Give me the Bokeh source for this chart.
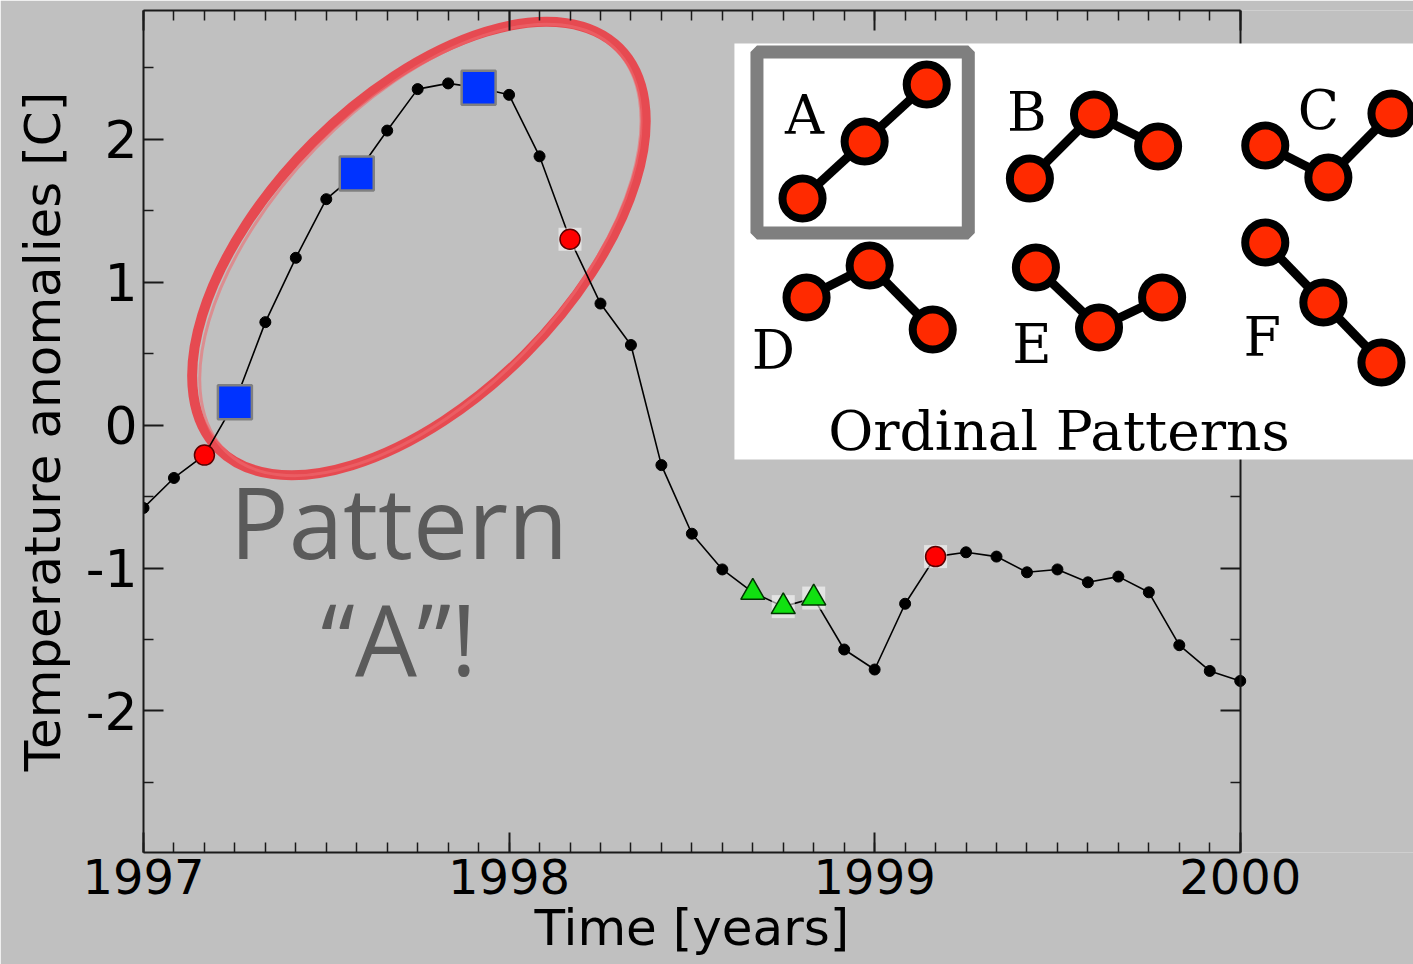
import math
from bokeh.plotting import figure
from bokeh.models import (Range1d, FixedTicker, LinearAxis, BoxAnnotation, Arrow, Label,
                          ColumnDataSource, Title)
from bokeh.core.properties import value
from bokeh.embed import file_html
from bokeh.resources import INLINE

# ---------------- data ----------------
month_index = list(range(37))          # months since Jan 1997
anomaly = [-0.58, -0.37, -0.21, 0.16, 0.72, 1.17, 1.58, 1.76, 2.06, 2.35,
           2.39, 2.36, 2.31, 1.88, 1.30, 0.85, 0.56, -0.28, -0.76, -1.01,
           -1.17, -1.27, -1.21, -1.57, -1.71, -1.25, -0.92, -0.89, -0.92, -1.03,
           -1.01, -1.10, -1.06, -1.17, -1.54, -1.72, -1.79]
pattern_a_idx = [3, 7, 11]      # blue squares
red_idx = [2, 14, 26]           # red circles
green_idx = [20, 21, 22]        # green triangles
halo_idx = [14, 21, 22, 26]     # light boxes behind some markers

x_major = [1997, 1998, 1999, 2000]
x_labels = ["1997", "1998", "1999", "2000"]
y_major = [-2, -1, 0, 1, 2]
y_labels = ["-2", "-1", "0", "1", "2"]

pattern_names = ["A", "B", "C", "D", "E", "F"]
pattern_ranks = [[0, 1, 2], [0, 2, 1], [1, 0, 2], [1, 2, 0], [2, 0, 1], [2, 1, 0]]

BG = "#c0c0c0"
time = [1997 + m / 12.0 for m in month_index]
src = ColumnDataSource(dict(t=time, a=anomaly))

def sub(idx):
    return ColumnDataSource(dict(t=[time[i] for i in idx], a=[anomaly[i] for i in idx]))

# ---------------- geometry ----------------
W, H = 1413, 964
PX_L, PX_T, PX_B = 143, 10, 852      # frame left / top / bottom (page px)
PX_PER_YEAR = 365.0
FRAME_W = W - PX_L - 2               # frame runs to the right edge (inset overhangs axis)
X0 = 1997
X1 = X0 + FRAME_W / PX_PER_YEAR
XB = 2000                            # right end of the drawn axes
Y0, Y1 = -2.99, 2.9

def dx(xp):
    return X0 + (xp - PX_L) / PX_PER_YEAR
def dy(yp):
    return Y1 - (yp - PX_T) * (Y1 - Y0) / (PX_B - PX_T)

p = figure(width=W, height=H, x_range=Range1d(X0, X1), y_range=Range1d(Y0, Y1),
           output_backend="svg", toolbar_location=None,
           min_border_left=PX_L, min_border_right=0, min_border_top=PX_T,
           min_border_bottom=H - PX_B,
           background_fill_color=BG, border_fill_color=BG, outline_line_color=None)
p.grid.visible = False

xticker = FixedTicker(ticks=x_major, minor_ticks=[1997 + m / 12.0 for m in range(37)])
yticker = FixedTicker(ticks=y_major, minor_ticks=[-2.5, -1.5, -0.5, 0.5, 1.5, 2.5])

def style_axis(ax, labels=True):
    ax.axis_line_color = "#1a1a1a"
    ax.axis_line_width = 2
    ax.major_tick_line_color = "#1a1a1a"
    ax.major_tick_line_width = 2
    ax.minor_tick_line_color = "#1a1a1a"
    ax.minor_tick_line_width = 1.5
    ax.major_tick_in = 20
    ax.major_tick_out = 0
    ax.minor_tick_in = 10
    ax.minor_tick_out = 0
    if labels:
        ax.major_label_text_font = "DejaVu Sans"
        ax.major_label_text_color = "black"
        ax.major_label_standoff = 6
        ax.axis_label_text_font = "DejaVu Sans"
        ax.axis_label_text_font_style = "normal"
        ax.axis_label_text_color = "black"
    else:
        ax.major_label_text_font_size = "1px"
        ax.major_label_text_color = None
        ax.major_label_standoff = 0

xa = p.xaxis[0]
xa.ticker = xticker
xa.bounds = (X0, XB)
xa.major_label_overrides = {v: s for v, s in zip(x_major, x_labels)}
style_axis(xa)
xa.major_label_text_font_size = "48px"

# x-axis title, aligned under the 1997-2000 span
p.add_layout(Title(text="Time [years]", align="left", offset=391, standoff=0,
                   text_font="DejaVu Sans", text_font_size="50px",
                   text_font_style="normal", text_color="black"), "below")

ya = p.yaxis[0]
ya.ticker = yticker
ya.major_label_overrides = {v: s for v, s in zip(y_major, y_labels)}
style_axis(ya)
ya.major_label_text_font_size = "52px"
ya.axis_label = "Temperature anomalies [C]"
ya.axis_label_text_font_size = "50px"
ya.axis_label_standoff = 11

top = LinearAxis(ticker=xticker, bounds=(X0, XB))
style_axis(top, labels=False)
p.add_layout(top, "above")
right = LinearAxis(ticker=yticker, fixed_location=XB)
style_axis(right, labels=False)
p.add_layout(right, "right")

# ------------- red hand-drawn ellipse -------------
ell_cx, ell_cy = dx(418), dy(248)
p.ellipse(x=[ell_cx], y=[ell_cy], width=567, height=300, angle=math.pi / 4,
          width_units="screen", height_units="screen",
          fill_color=None, line_color="#e8434b", line_width=10, line_alpha=0.95)
p.ellipse(x=[ell_cx + 0.004], y=[ell_cy - 0.01], width=560, height=292, angle=math.pi / 4 + 0.02,
          width_units="screen", height_units="screen",
          fill_color=None, line_color="#ef6a70", line_width=3, line_alpha=0.6)

# ------------- series -------------
p.line("t", "a", source=src, line_color="black", line_width=1.6)
p.scatter("t", "a", source=src, size=11, marker="circle", fill_color="black", line_color="black")
p.scatter("t", "a", source=sub(halo_idx), size=23, marker="square",
          fill_color="white", fill_alpha=0.55, line_color=None)
p.scatter("t", "a", source=sub(red_idx), size=20, marker="circle",
          fill_color="#ff0000", line_color="#5a0000", line_width=1.5)
p.scatter("t", "a", source=sub(green_idx), size=24, marker="triangle",
          fill_color="#11e011", line_color="#003300", line_width=1.5)
p.scatter("t", "a", source=sub(pattern_a_idx), size=34, marker="square",
          fill_color="#0033ff", line_color="#808080", line_width=2.5)

# ------------- "Pattern "A"!" text -------------
SHIFT_BIG = 38     # baseline correction for the big label (px)
p.text(x=[dx(398), dx(398)], y=[dy(558 - SHIFT_BIG), dy(675 - SHIFT_BIG)],
       text=["Pattern", "\u201cA\u201d!"],
       text_font=value("Open Sans"), text_font_size="98px", text_color="#5a5a5a",
       text_align="center", text_baseline="alphabetic")

# ------------- inset: ordinal patterns -------------
p.add_layout(BoxAnnotation(left=dx(733), right=dx(1460), top=dy(43), bottom=dy(459),
                           fill_color="white", fill_alpha=1.0, line_color=None))
p.add_layout(BoxAnnotation(left=dx(755.5), right=dx(966.5), top=dy(51.5), bottom=dy(232.5),
                           fill_color=None, fill_alpha=0, line_color="#7f7f7f",
                           line_width=13, line_alpha=1.0))

# per pattern: x of first dot, y of rank-0 dot, x step, y step per rank (reference px)
icon_layout = [(801, 198, 62, 57), (1028, 178, 64, 32), (1263, 177, 63, 32),
               (805, 329, 63, 32), (1034, 327, 63, 30), (1263, 362, 58, 60)]
letter_pos = [(803, 133), (1025, 130), (1316, 128), (772, 368), (1030, 362), (1260, 355)]
SHIFT_SERIF = 18

R = 20
for name, ranks, (x0, y0, sx, sy), (lx, ly) in zip(pattern_names, pattern_ranks, icon_layout, letter_pos):
    pts = [(x0 + k * sx, y0 - r * sy) for k, r in enumerate(ranks)]
    for (xa_, ya_), (xb_, yb_) in zip(pts[:-1], pts[1:]):
        p.add_layout(Arrow(end=None, x_start=dx(xa_), y_start=dy(ya_), x_end=dx(xb_), y_end=dy(yb_),
                           line_color="black", line_width=9))
    for (xc, yc) in pts:
        p.add_layout(BoxAnnotation(left=dx(xc - R), right=dx(xc + R), top=dy(yc - R), bottom=dy(yc + R),
                                   border_radius=R, fill_color="#ff2a00", fill_alpha=1.0,
                                   line_color="black", line_width=8, line_alpha=1.0))
    p.add_layout(Label(x=dx(lx), y=dy(ly - SHIFT_SERIF), text=name, text_font="DejaVu Serif",
                       text_font_size="54px", text_color="black",
                       text_align="center", text_baseline="alphabetic"))

p.add_layout(Label(x=dx(1057), y=dy(448 - SHIFT_SERIF), text="Ordinal Patterns",
                   text_font="DejaVu Serif", text_font_size="55px", text_color="black",
                   text_align="center", text_baseline="alphabetic"))

open("out.html", "w").write(file_html(p, INLINE))
